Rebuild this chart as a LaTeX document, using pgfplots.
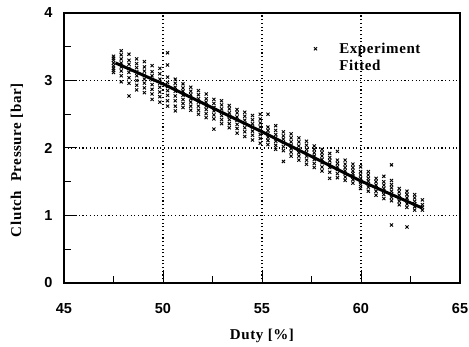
\documentclass[border=0pt]{standalone}
\usepackage{fontspec}
\setmainfont{Liberation Serif}
\newfontfamily\labfont{Liberation Serif}[LetterSpace=4]
\newfontfamily\tickfont{Liberation Sans}
\usepackage{pgfplots}
\pgfplotsset{compat=1.18}
\begin{document}
\begin{tikzpicture}
\begin{axis}[
  scale only axis,
  width=396pt, height=270pt,
  xmin=45, xmax=65, ymin=0, ymax=4,
  xtick={45,50,55,60,65}, ytick={0,1,2,3,4},
  minor x tick num=1, minor y tick num=1,
  tick pos=left, tick align=inside,
  major tick length=13pt, minor tick length=7pt,
  every tick/.style={black, line width=1pt},
  axis line style={line width=1.4pt},
  grid=major,
  major grid style={black, line width=1.1pt, dash pattern=on 1.1pt off 2.6pt},
  /pgf/number format/assume math mode=true,
  ticklabel style={font=\tickfont\bfseries\fontsize{14.5}{16}\selectfont},
  xticklabel style={yshift=-17pt},
  yticklabel style={xshift=-8pt},
  xlabel={Duty [\%]},
  ylabel={Clutch\ \ Pressure [bar]},
  label style={font=\labfont\bfseries\fontsize{15}{17}\selectfont},
  xlabel style={at={(axis description cs:0.5,-0.196)}, anchor=center},
  ylabel style={at={(axis description cs:-0.119,0.455)}, anchor=center},
  legend style={at={(axis description cs:0.605,0.905)}, anchor=north west,
    draw=none, fill=none, font=\labfont\bfseries\fontsize{15}{17}\selectfont,
    row sep=1pt, /tikz/every odd column/.append style={column sep=13pt}},
  legend cell align=left,
]
\addplot[only marks, mark=x, mark size=2.2pt, black, line width=0.9pt] coordinates {
(47.50,3.12)(47.50,3.15)(47.50,3.18)(47.50,3.22)(47.50,3.26)(47.50,3.30)(47.50,3.33)(47.50,3.36)
(47.89,2.98)(47.89,3.07)(47.89,3.14)(47.89,3.20)(47.89,3.26)(47.89,3.32)(47.89,3.38)(47.89,3.44)
(48.28,2.77)(48.28,2.96)(48.28,3.04)(48.28,3.12)(48.28,3.18)(48.28,3.24)(48.28,3.30)(48.28,3.39)
(48.67,2.86)(48.67,2.93)(48.67,3.00)(48.67,3.07)(48.67,3.13)(48.67,3.19)(48.67,3.25)(48.67,3.32)
(49.06,2.82)(49.06,2.89)(49.06,2.96)(49.06,3.02)(49.06,3.08)(49.06,3.14)(49.06,3.20)(49.06,3.28)
(49.45,2.72)(49.45,2.80)(49.45,2.87)(49.45,2.94)(49.45,3.01)(49.45,3.07)(49.45,3.13)(49.45,3.22)
(49.84,2.68)(49.84,2.76)(49.84,2.83)(49.84,2.90)(49.84,2.96)(49.84,3.02)(49.84,3.10)(49.84,3.18)
(50.23,2.62)(50.23,2.70)(50.23,2.78)(50.23,2.85)(50.23,2.91)(50.23,2.97)(50.23,3.05)(50.23,3.23)(50.23,3.41)
(50.62,2.55)(50.62,2.62)(50.62,2.70)(50.62,2.77)(50.62,2.84)(50.62,2.90)(50.62,2.96)(50.62,3.02)
(51.01,2.60)(51.01,2.66)(51.01,2.72)(51.01,2.78)(51.01,2.84)(51.01,2.89)(51.01,2.95)
(51.40,2.56)(51.40,2.62)(51.40,2.68)(51.40,2.73)(51.40,2.79)(51.40,2.84)(51.40,2.90)
(51.79,2.50)(51.79,2.56)(51.79,2.62)(51.79,2.68)(51.79,2.73)(51.79,2.79)(51.79,2.85)
(52.18,2.45)(52.18,2.51)(52.18,2.57)(52.18,2.62)(52.18,2.68)(52.18,2.73)(52.18,2.80)
(52.57,2.28)(52.57,2.43)(52.57,2.49)(52.57,2.55)(52.57,2.60)(52.57,2.66)(52.57,2.72)
(52.96,2.36)(52.96,2.42)(52.96,2.48)(52.96,2.53)(52.96,2.58)(52.96,2.64)(52.96,2.70)
(53.35,2.30)(53.35,2.36)(53.35,2.42)(53.35,2.47)(53.35,2.52)(53.35,2.58)(53.35,2.63)
(53.74,2.22)(53.74,2.29)(53.74,2.35)(53.74,2.41)(53.74,2.46)(53.74,2.52)(53.74,2.57)
(54.13,2.17)(54.13,2.24)(54.13,2.30)(54.13,2.36)(54.13,2.41)(54.13,2.47)(54.13,2.53)
(54.52,2.12)(54.52,2.19)(54.52,2.25)(54.52,2.31)(54.52,2.36)(54.52,2.42)(54.52,2.48)
(54.91,2.07)(54.91,2.14)(54.91,2.20)(54.91,2.26)(54.91,2.31)(54.91,2.37)(54.91,2.43)(54.91,2.50)
(55.30,2.05)(55.30,2.11)(55.30,2.16)(55.30,2.21)(55.30,2.26)(55.30,2.31)(55.30,2.50)
(55.69,1.98)(55.69,2.04)(55.69,2.10)(55.69,2.15)(55.69,2.20)(55.69,2.26)(55.69,2.33)
(56.08,1.80)(56.08,1.96)(56.08,2.02)(56.08,2.08)(56.08,2.13)(56.08,2.18)(56.08,2.24)
(56.47,1.88)(56.47,1.94)(56.47,1.99)(56.47,2.04)(56.47,2.09)(56.47,2.15)(56.47,2.21)
(56.86,1.82)(56.86,1.88)(56.86,1.93)(56.86,1.98)(56.86,2.03)(56.86,2.09)(56.86,2.15)
(57.25,1.76)(57.25,1.82)(57.25,1.88)(57.25,1.93)(57.25,1.98)(57.25,2.04)(57.25,2.10)
(57.64,1.71)(57.64,1.77)(57.64,1.83)(57.64,1.88)(57.64,1.93)(57.64,1.98)(57.64,2.03)
(58.03,1.66)(58.03,1.72)(58.03,1.78)(58.03,1.83)(58.03,1.88)(58.03,1.93)(58.03,1.98)
(58.42,1.55)(58.42,1.64)(58.42,1.71)(58.42,1.76)(58.42,1.81)(58.42,1.86)(58.42,1.92)
(58.81,1.56)(58.81,1.62)(58.81,1.68)(58.81,1.72)(58.81,1.77)(58.81,1.82)(58.81,1.95)
(59.20,1.52)(59.20,1.57)(59.20,1.62)(59.20,1.66)(59.20,1.71)(59.20,1.76)(59.20,1.82)
(59.59,1.48)(59.59,1.53)(59.59,1.58)(59.59,1.62)(59.59,1.66)(59.59,1.71)(59.59,1.76)
(59.98,1.40)(59.98,1.46)(59.98,1.51)(59.98,1.55)(59.98,1.60)(59.98,1.65)(59.98,1.72)
(60.37,1.36)(60.37,1.42)(60.37,1.47)(60.37,1.51)(60.37,1.55)(60.37,1.60)(60.37,1.65)
(60.76,1.30)(60.76,1.36)(60.76,1.41)(60.76,1.45)(60.76,1.50)(60.76,1.55)
(61.15,1.25)(61.15,1.31)(61.15,1.36)(61.15,1.40)(61.15,1.45)(61.15,1.50)(61.15,1.58)
(61.54,0.86)(61.54,1.22)(61.54,1.27)(61.54,1.32)(61.54,1.36)(61.54,1.41)(61.54,1.46)(61.54,1.52)(61.54,1.75)
(61.93,1.16)(61.93,1.21)(61.93,1.26)(61.93,1.30)(61.93,1.35)(61.93,1.40)
(62.32,0.83)(62.32,1.12)(62.32,1.17)(62.32,1.22)(62.32,1.26)(62.32,1.31)(62.32,1.36)
(62.71,1.08)(62.71,1.13)(62.71,1.17)(62.71,1.21)(62.71,1.26)(62.71,1.31)
(63.10,1.08)(63.10,1.12)(63.10,1.16)(63.10,1.23)
};
\addlegendentry{Experiment}
\addplot[black, line width=3pt, forget plot] coordinates {
(47.6,3.26)(50,2.95)(55,2.24)(60,1.51)(63.1,1.11)
};
\addlegendimage{white, opacity=0}
\addlegendentry{Fitted}
\end{axis}
\pgfresetboundingbox
\path ([xshift=-64pt,yshift=-64pt]current axis.south west) rectangle ([xshift=9pt,yshift=13pt]current axis.north east);
\end{tikzpicture}
\end{document}
